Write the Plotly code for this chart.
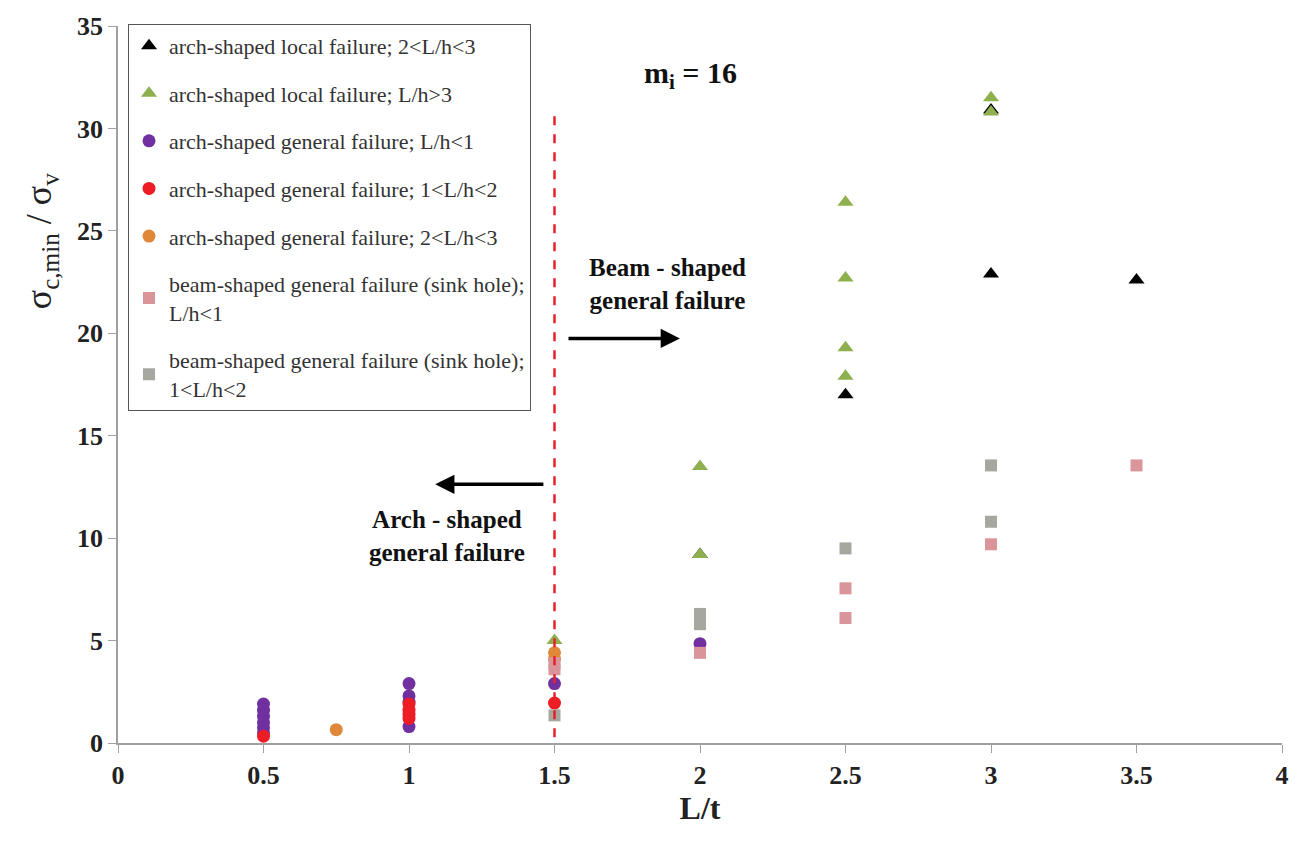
import plotly.graph_objects as go

# ---- data ----
black_x = [2, 2.5, 3, 3, 3.5]
black_y = [9.2, 17.0, 22.9, 30.9, 22.6]

green_x = [1.5, 2, 2, 2.5, 2.5, 2.5, 2.5, 3, 3]
green_y = [5.0, 13.5, 9.2, 26.4, 22.7, 19.3, 17.9, 31.5, 30.8]

purple_x = [0.5, 0.5, 0.5, 0.5, 0.5, 0.5, 1, 1, 1, 1, 1.5, 2]
purple_y = [1.9, 1.6, 1.3, 1.0, 0.75, 0.5, 2.9, 2.3, 2.0, 0.8, 2.9, 4.85]

red_x = [0.5, 1, 1, 1, 1, 1.5]
red_y = [0.33, 1.9, 1.6, 1.4, 1.2, 1.95]

orange_x = [0.75, 1.5, 1.5]
orange_y = [0.65, 4.4, 4.1]

pink_x = [1.5, 1.5, 2, 2.5, 2.5, 3, 3.5]
pink_y = [3.9, 3.6, 4.4, 7.55, 6.1, 9.7, 13.55]

gray_x = [1.5, 2, 2, 2.5, 3, 3]
gray_y = [1.35, 6.3, 5.8, 9.5, 13.55, 10.8]

series = [
    ("arch-shaped local failure; 2<L/h<3", black_x, black_y, "triangle-up", "#000000", 14),
    ("arch-shaped local failure; L/h>3", green_x, green_y, "triangle-up", "#8fb04f", 14),
    ("arch-shaped general failure; L/h<1", purple_x, purple_y, "circle", "#7030a0", 13),
    ("arch-shaped general failure; 1<L/h<2", red_x, red_y, "circle", "#ee1c25", 13),
    ("arch-shaped general failure; 2<L/h<3", orange_x, orange_y, "circle", "#e0883a", 13),
    ("beam-shaped general failure (sink hole);<br>L/h<1", pink_x, pink_y, "square", "#d9959a", 12),
    ("beam-shaped general failure (sink hole);<br>1<L/h<2", gray_x, gray_y, "square", "#a6a8a0", 12),
]

fig = go.Figure()
for i, (name, xs, ys, sym, col, sz) in enumerate(series):
    fig.add_trace(go.Scatter(
        x=xs, y=ys, mode="markers", name=name, legendgroup=str(i),
        marker=dict(symbol=sym, color=col, size=sz, line=dict(width=0)),
    ))

serif = "Liberation Serif"

fig.update_layout(
    width=1302, height=843,
    margin=dict(l=118, r=20, t=20, b=100),
    paper_bgcolor="white", plot_bgcolor="white",
    font=dict(family=serif, color="#222222"),
    showlegend=True,
    legend=dict(
        x=0.0086, y=1.003, xanchor="left", yanchor="top",
        bgcolor="white", bordercolor="#555555", borderwidth=1,
        font=dict(family=serif, size=22, color="#333333"),
        tracegroupgap=16, itemwidth=30,
    ),
    xaxis=dict(
        range=[0, 4], dtick=0.5, tick0=0, showgrid=False, zeroline=False,
        showline=True, linecolor="#a0a0a0", linewidth=1.5,
        ticks="outside", ticklen=8, tickcolor="#a0a0a0",
        tickfont=dict(family=serif, size=26, color="#222222", weight="bold"),
        title=dict(text="<b>L/t</b>", font=dict(family=serif, size=32, color="#222222"), standoff=2),
    ),
    yaxis=dict(
        range=[0, 35], dtick=5, showgrid=False, zeroline=False,
        showline=True, linecolor="#a0a0a0", linewidth=1.5,
        ticks="outside", ticklen=8, tickcolor="#a0a0a0",
        tickfont=dict(family=serif, size=26, color="#222222", weight="bold"),
    ),
)

# y-axis title placed high, as in the reference
fig.add_annotation(x=-0.066, y=0.70, xref="paper", yref="paper", showarrow=False,
                   textangle=-90, xanchor="center", yanchor="middle",
                   text="σ<sub>c,min</sub> / σ<sub>v</sub>",
                   font=dict(family=serif, size=36, color="#222222"))

# dashed boundary line
fig.add_shape(type="line", xref="x", yref="y", x0=1.5, x1=1.5, y0=-0.6, y1=30.8,
              line=dict(color="#e8202a", width=2.5, dash="dash"))

# arrows
fig.add_annotation(x=1.09, y=12.63, ax=1.467, ay=12.63, xref="x", yref="y", axref="x", ayref="y",
                   showarrow=True, arrowhead=2, arrowsize=1.1, arrowwidth=3.5, arrowcolor="#000000", text="")
fig.add_annotation(x=1.931, y=19.75, ax=1.543, ay=19.75, xref="x", yref="y", axref="x", ayref="y",
                   showarrow=True, arrowhead=2, arrowsize=1.1, arrowwidth=3.5, arrowcolor="#000000", text="")

fig.add_annotation(x=1.13, y=10.1, xref="x", yref="y", showarrow=False,
                   text="<b>Arch - shaped<br>general failure</b>",
                   font=dict(family=serif, size=25, color="#111111"), align="center")
fig.add_annotation(x=1.887, y=22.4, xref="x", yref="y", showarrow=False,
                   text="<b>Beam - shaped<br>general failure</b>",
                   font=dict(family=serif, size=25, color="#111111"), align="center")
fig.add_annotation(x=1.966, y=32.6, xref="x", yref="y", showarrow=False,
                   text="<b>m<sub>i</sub> = 16</b>",
                   font=dict(family=serif, size=30, color="#111111"))

fig.write_html("out.html")
